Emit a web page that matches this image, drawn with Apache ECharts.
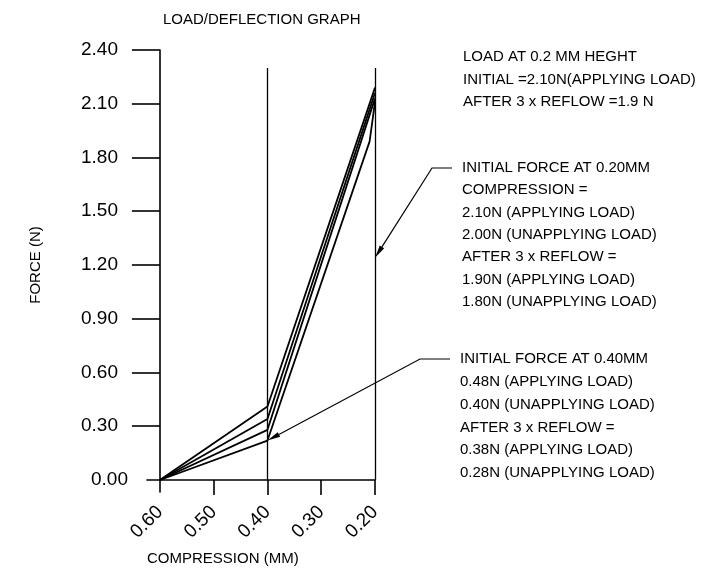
<!DOCTYPE html>
<html><head><meta charset="utf-8">
<script src="https://cdn.jsdelivr.net/npm/echarts@6/dist/echarts.min.js"></script>
<style>html,body{margin:0;padding:0;background:#fff}#c{width:709px;height:573px}</style>
</head><body><div id="c"></div>
<script>
// ---- data ----
const chartTitle = 'LOAD/DEFLECTION GRAPH';
const xAxisTitle = 'COMPRESSION (MM)';
const yAxisTitle = 'FORCE (N)';
const xTickLabels = [0.60, 0.50, 0.40, 0.30, 0.20];
const yTickLabels = [0, 0.3, 0.6, 0.9, 1.2, 1.5, 1.8, 2.1, 2.4];
const compression = [0.60, 0.40, 0.20];
const forceA = [0, 0.41, 2.19];
const forceB = [0, 0.34, 2.16];
const forceC = [0, 0.28, 2.13];
const compressionD = [0.60, 0.40, 0.21, 0.20];
const forceD = [0, 0.22, 1.89, 2.11];
const guideCompression = [0.40, 0.20];
const guideTop = 2.30;
const noteTop = ['LOAD AT 0.2 MM HEGHT', 'INITIAL =2.10N(APPLYING LOAD)', 'AFTER 3 x REFLOW =1.9 N'];
const noteMid = ['INITIAL FORCE AT 0.20MM', 'COMPRESSION =', '2.10N (APPLYING LOAD)', '2.00N (UNAPPLYING LOAD)', 'AFTER 3 x REFLOW =', '1.90N (APPLYING LOAD)', '1.80N (UNAPPLYING LOAD)'];
const noteLow = ['INITIAL FORCE AT 0.40MM', '0.48N (APPLYING LOAD)', '0.40N (UNAPPLYING LOAD)', 'AFTER 3 x REFLOW =', '0.38N (APPLYING LOAD)', '0.28N (UNAPPLYING LOAD)'];
const arrowTargetMid = [0.20, 1.24];
const arrowTargetLow = [0.40, 0.22];

// ---- build ----
const ORIGIN = xTickLabels[0];
const toX = c => +(ORIGIN - c).toFixed(4);
const pair = (cs, fs) => cs.map((c, i) => [toX(c), fs[i]]);
const REG = '"Liberation Sans", Arial, sans-serif';
const lineStyle = { color: '#000', width: 1.8 };
const axisStroke = { color: '#000', width: 1.6 };

const chart = echarts.init(document.getElementById('c'), null, { renderer: 'canvas' });
const xTicks = xTickLabels.map(toX);
const option = {
  backgroundColor: '#fff',
  animation: false,
  title: [
    { text: chartTitle, left: 163, top: 12, padding: 0, textStyle: { fontFamily: REG, fontSize: 15, fontWeight: 'normal', color: '#000' } },
    { text: xAxisTitle, left: 147, top: 551, padding: 0, textStyle: { fontFamily: REG, fontSize: 15, fontWeight: 'normal', color: '#000' } }
  ],
  grid: { left: 147, right: 334, top: 50, bottom: 81, containLabel: false },
  xAxis: {
    type: 'value', min: -0.024, max: 0.4,
    axisLine: { onZero: true, lineStyle: axisStroke },
    axisTick: { customValues: xTicks.slice(1), length: 15, lineStyle: axisStroke },
    axisLabel: { customValues: xTicks, rotate: 45, margin: 17, fontFamily: REG, fontSize: 19, color: '#000',
      formatter: v => (ORIGIN - v).toFixed(2) },
    splitLine: { show: false }
  },
  yAxis: {
    type: 'value', min: -0.067, max: 2.4,
    name: yAxisTitle, nameLocation: 'middle', nameGap: 104, nameRotate: 90, nameMoveOverlap: false,
    nameTextStyle: { fontFamily: REG, fontSize: 15, color: '#000', padding: [0, 0, 0, 12] },
    axisLine: { onZero: true, lineStyle: axisStroke },
    axisTick: { customValues: yTickLabels.slice(1), length: 28, lineStyle: axisStroke },
    axisLabel: { customValues: yTickLabels, margin: 19, color: '#000', fontFamily: REG, fontSize: 19,
      formatter: v => Math.abs(v) < 1e-9 ? '{z|0.00}' : '{n|' + v.toFixed(2) + '}',
      rich: { n: { fontFamily: REG, fontSize: 19, color: '#000', padding: [0, 10, 0, 0] }, z: { fontFamily: REG, fontSize: 19, color: '#000' } } },
    splitLine: { show: false }
  },
  series: [
    { type: 'line', data: pair(compression, forceA), symbol: 'none', lineStyle, clip: false, silent: true,
      markLine: { symbol: ['none', 'none'], silent: true, animation: false, label: { show: false },
        lineStyle: { color: '#000', width: 1.3, type: 'solid' },
        data: guideCompression.map(c => [{ coord: [toX(c), 0] }, { coord: [toX(c), guideTop] }]) } },
    { type: 'line', data: pair(compression, forceB), symbol: 'none', lineStyle, clip: false, silent: true },
    { type: 'line', data: pair(compression, forceC), symbol: 'none', lineStyle, clip: false, silent: true },
    { type: 'line', data: pair(compressionD, forceD), symbol: 'none', lineStyle, clip: false, silent: true }
  ]
};
chart.setOption(option);

// ---- annotations ----
function textBlock(lines, x, firstCenterY, lh) {
  return { type: 'text', x: x, y: firstCenterY - lh / 2, silent: true,
    style: { text: lines.join('\n'), font: '15px ' + REG, lineHeight: lh, fill: '#000', verticalAlign: 'top', align: 'left' } };
}
function leader(endPt, elbow, target) {
  const tip = chart.convertToPixel({ gridIndex: 0 }, [toX(target[0]), target[1]]);
  const dx = tip[0] - elbow[0], dy = tip[1] - elbow[1];
  const len = Math.hypot(dx, dy), ux = dx / len, uy = dy / len;
  const L = 13, W = 2.6;
  const bx = tip[0] - ux * L, by = tip[1] - uy * L;
  return [
    { type: 'polyline', silent: true, shape: { points: [endPt, elbow, [bx, by]] }, style: { stroke: '#000', lineWidth: 1.2, fill: null } },
    { type: 'polygon', silent: true, shape: { points: [tip, [bx - uy * W, by + ux * W], [bx + uy * W, by - ux * W]] }, style: { fill: '#000' } }
  ];
}
chart.setOption({
  graphic: [
    textBlock(noteTop, 463, 57, 22.5),
    textBlock(noteMid, 462, 168, 22.3),
    textBlock(noteLow, 460, 359, 22.8),
    ...leader([452, 168], [432, 168], arrowTargetMid),
    ...leader([450, 359], [420, 359], arrowTargetLow)
  ]
});
</script></body></html>
